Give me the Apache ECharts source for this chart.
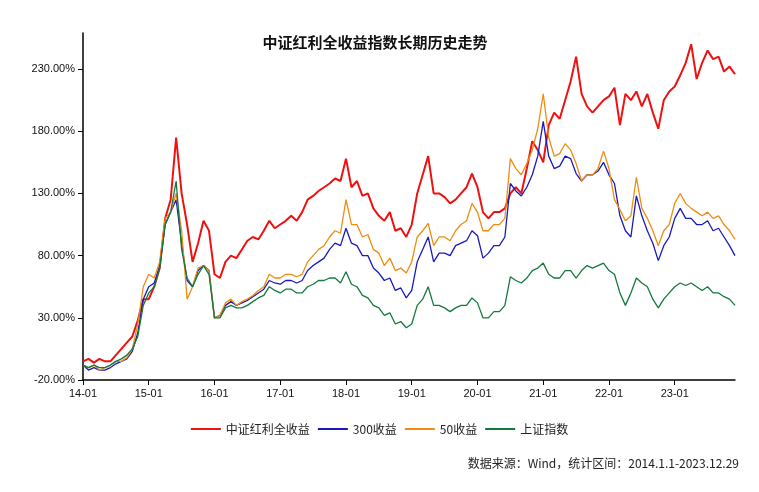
<!DOCTYPE html>
<html lang="zh">
<head>
<meta charset="utf-8">
<script src="https://cdn.jsdelivr.net/npm/echarts@6/dist/echarts.min.js"></script>
<style>html,body{margin:0;padding:0;background:#fff}#main{width:759px;height:492px}</style>
</head>
<body>
<div id="main"></div>
<script>
// monthly, 2014-01 .. 2023-12, values in %
var months = [];
for (var y = 2014; y <= 2023; y++) for (var m = 1; m <= 12; m++) months.push(String(y).slice(2) + '-' + (m < 10 ? '0' + m : m));

var hongli = [-5,-3,-6,-3,-5,-5,0,5,10,15,28,45,
  45,55,70,110,125,175,130,105,75,90,108,100,
  65,62,75,80,78,85,92,95,93,100,108,102,
  105,108,112,108,115,125,128,132,135,138,142,140,
  158,135,140,128,130,118,112,108,115,100,102,95,
  105,130,145,160,130,130,127,122,125,130,135,146,
  135,115,110,115,115,118,130,135,130,150,172,165,
  155,185,195,190,205,220,240,210,200,195,200,205,
  208,215,185,210,205,212,200,210,195,182,205,212,
  216,225,235,250,222,235,245,238,240,228,232,226];
var hs300 = [-8,-12,-10,-12,-12,-10,-7,-5,-3,3,18,45,
  55,58,72,105,115,125,90,60,55,68,72,68,
  30,32,40,43,40,42,44,47,50,53,60,58,
  57,60,60,58,60,68,72,75,78,85,90,88,
  102,90,88,80,80,70,66,60,62,52,54,46,
  52,75,85,95,75,82,82,80,88,90,92,100,
  96,78,82,88,88,95,138,132,128,135,145,160,
  188,160,150,152,160,158,146,140,145,145,148,155,
  145,138,112,100,95,128,112,100,90,76,88,95,
  110,118,110,110,105,105,108,100,102,95,88,80];
var sz50 = [-8,-10,-8,-12,-10,-8,-5,-5,-2,5,25,55,
  65,62,75,110,115,130,100,45,55,70,72,68,
  30,32,42,45,40,43,45,48,52,55,65,62,
  62,65,65,63,65,75,80,85,88,95,100,98,
  125,105,105,95,97,85,82,72,78,68,70,66,
  75,95,100,106,88,95,95,92,100,105,108,122,
  115,100,100,105,105,110,158,150,145,154,165,182,
  210,175,160,162,170,165,154,140,145,145,150,164,
  150,125,117,108,112,143,118,110,100,88,100,105,
  122,130,122,118,115,112,115,110,112,105,100,93];
var szzs = [-8,-10,-8,-10,-10,-8,-5,-3,0,5,15,40,
  50,55,70,105,115,140,85,62,55,65,72,65,
  30,30,38,40,38,38,40,43,46,48,55,52,
  50,53,53,50,50,55,57,60,60,62,62,58,
  67,57,55,48,46,40,38,32,34,25,27,22,
  25,40,45,55,40,40,38,35,38,40,40,46,
  42,30,30,35,35,40,63,60,58,62,68,70,
  74,65,62,62,68,68,62,68,72,70,72,74,
  68,65,50,40,50,62,58,55,45,38,45,50,
  55,58,56,58,55,52,55,50,50,47,45,40];

var names = ['中证红利全收益', '300收益', '50收益', '上证指数'];
var colors = ['#ee1111', '#1a1ab8', '#f08c10', '#137a3c'];
var datas = [hongli, hs300, sz50, szzs];

var chart = echarts.init(document.getElementById('main'));
chart.setOption({
  animation: false,
  title: {
    text: '中证红利全收益指数长期历史走势', left: 370, top: 30, textAlign: 'center',
    textStyle: {fontSize: 15, fontWeight: 'bold', color: '#111', fontFamily: 'Noto Sans CJK SC'}
  },
  legend: {
    data: names, bottom: 52, left: 'center', itemWidth: 30, itemHeight: 2, itemGap: 8,
    icon: 'rect',
    textStyle: {fontSize: 12, color: '#222', fontFamily: 'Noto Sans CJK SC'}
  },
  graphic: [{
    type: 'text', right: 20, top: 457,
    style: {text: '数据来源：Wind，统计区间：2014.1.1-2023.12.29', fontSize: 12, fill: '#222', fontFamily: 'Noto Sans CJK SC'}
  }],
  grid: {left: 83, right: 24, top: 33, bottom: 112},
  xAxis: {
    type: 'category', data: months, boundaryGap: false,
    axisLine: {onZero: false, lineStyle: {color: '#000', width: 1.5}},
    axisTick: {interval: function (i) { return i % 12 === 0; }, lineStyle: {color: '#000'}},
    axisLabel: {interval: function (i) { return i % 12 === 0; }, color: '#111', fontSize: 11, margin: 8},
    splitLine: {show: false}
  },
  yAxis: {
    type: 'value', min: -20, max: 259, interval: 50,
    axisLine: {show: true, lineStyle: {color: '#000', width: 1.5}},
    axisTick: {show: true, lineStyle: {color: '#000'}},
    axisLabel: {formatter: function (v) { return v.toFixed(2) + '%'; }, color: '#111', fontSize: 11, showMaxLabel: false},
    splitLine: {show: false}
  },
  series: names.map(function (n, i) {
    return {
      name: n, type: 'line', data: datas[i], showSymbol: false,
      lineStyle: {color: colors[i], width: i === 0 ? 2 : 1.3}, itemStyle: {color: colors[i]}
    };
  })
});
</script>
</body>
</html>
